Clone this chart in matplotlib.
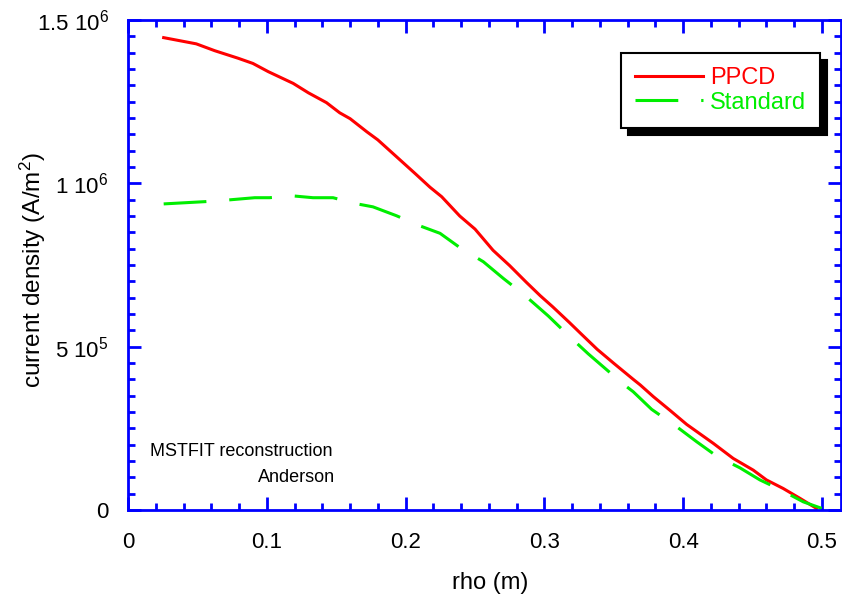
import matplotlib
matplotlib.use("Agg")
import matplotlib.pyplot as plt
from matplotlib.ticker import MultipleLocator

plt.rcParams['font.family'] = ['Liberation Sans', 'DejaVu Sans']
plt.rcParams['mathtext.fontset'] = 'custom'
plt.rcParams['mathtext.rm'] = 'Liberation Sans'
plt.rcParams['mathtext.it'] = 'Liberation Sans:italic'
plt.rcParams['mathtext.bf'] = 'Liberation Sans:bold'

# PPCD profile
rho_ppcd = [0.0257, 0.0492, 0.0625, 0.0793, 0.090, 0.101, 0.119, 0.130, 0.143,
            0.1525, 0.160, 0.172, 0.180, 0.192, 0.2066, 0.2176, 0.226, 0.239,
            0.250, 0.263, 0.275, 0.287, 0.297, 0.306, 0.318, 0.326, 0.338,
            0.350, 0.364, 0.369, 0.3785, 0.3905, 0.4025, 0.4217, 0.436, 0.4505,
            0.460, 0.472, 0.484, 0.496]
j_ppcd = [1.446e6, 1.427e6, 1.406e6, 1.383e6, 1.367e6, 1.342e6, 1.306e6, 1.277e6,
          1.247e6, 1.216e6, 1.198e6, 1.158e6, 1.133e6, 1.087e6, 1.031e6, 0.988e6,
          0.959e6, 0.900e6, 0.860e6, 0.795e6, 0.748e6, 0.697e6, 0.656e6, 0.622e6,
          0.574e6, 0.541e6, 0.492e6, 0.449e6, 0.400e6, 0.383e6, 0.347e6, 0.305e6,
          0.262e6, 0.204e6, 0.158e6, 0.122e6, 0.092e6, 0.066e6, 0.036e6, 0.005e6]

# standard discharge profile
rho_std = [0.0257, 0.0557, 0.072, 0.0913, 0.102, 0.1177, 0.1333, 0.1477, 0.164,
           0.1765, 0.1933, 0.2102, 0.2248, 0.2392, 0.256, 0.2704, 0.2848, 0.3028,
           0.3184, 0.3316, 0.3485, 0.3545, 0.364, 0.3773, 0.3953, 0.4097, 0.4241,
           0.4409, 0.4553, 0.4697, 0.4865, 0.4998]
j_std = [0.937e6, 0.944e6, 0.949e6, 0.956e6, 0.956e6, 0.962e6, 0.956e6, 0.956e6,
         0.938e6, 0.928e6, 0.901e6, 0.870e6, 0.847e6, 0.803e6, 0.760e6, 0.709e6,
         0.661e6, 0.594e6, 0.530e6, 0.478e6, 0.416e6, 0.393e6, 0.362e6, 0.308e6,
         0.255e6, 0.209e6, 0.165e6, 0.129e6, 0.092e6, 0.063e6, 0.025e6, 0.005e6]

xticks = [0, 0.1, 0.2, 0.3, 0.4, 0.5]
xtick_labels = ['0', '0.1', '0.2', '0.3', '0.4', '0.5']
yticks = [0, 5e5, 1e6, 1.5e6]
ytick_labels = ['0', r'5 10$^{5}$', r'1 10$^{6}$', r'1.5 10$^{6}$']

blue = '#0000ff'

fig = plt.figure(figsize=(8.42, 5.94), dpi=100)
ax = fig.add_axes([128/842, 1 - 510/594, 713/842, 490/594])

ax.plot(rho_ppcd, j_ppcd, color='#ff0000', lw=2.2, label='PPCD')
ax.plot(rho_std, j_std, color='#00ee00', lw=2.2, dashes=(14, 7.5), label='Standard')

ax.set_xlim(0, 0.5 * 713 / 694)
ax.set_ylim(0, 1.5e6)
ax.set_xticks(xticks)
ax.set_xticklabels(xtick_labels)
ax.set_yticks(yticks)
ax.set_yticklabels(ytick_labels)
ax.xaxis.set_minor_locator(MultipleLocator(0.02))
ax.yaxis.set_minor_locator(MultipleLocator(5e4))

for s in ax.spines.values():
    s.set_color(blue)
    s.set_linewidth(2)
ax.tick_params(which='both', direction='in', top=True, right=True,
               color=blue, width=2, labelsize=16)
ax.tick_params(which='major', length=9.5)
ax.tick_params(which='minor', length=5)
ax.tick_params(axis='x', pad=16)
ax.tick_params(axis='y', pad=14)

ax.set_xlabel('rho (m)', fontsize=17)
ax.set_ylabel('current density (A/m$^{2}$)', fontsize=17.5)
ax.xaxis.set_label_coords(362/713, -62/490)
ax.yaxis.set_label_coords(-80/713, 240/490)

fig.text(150/842, 1 - 452/594, 'MSTFIT reconstruction', fontsize=13,
         ha='left', va='center')
fig.text(335/842, 1 - 478/594, 'Anderson', fontsize=13, ha='right', va='center')

leg = ax.legend(loc='upper right', bbox_to_anchor=(692/713, 457/490),
                borderaxespad=0, fontsize=17, handlelength=2.85,
                handletextpad=0.3, borderpad=0.6, labelspacing=0.1,
                fancybox=False, framealpha=1, edgecolor='black',
                labelcolor='linecolor',
                shadow={'color': 'black', 'alpha': 1, 'ox': 5, 'oy': -5})
leg.get_frame().set_linewidth(1.5)

fig.savefig('out.png', dpi=100)
